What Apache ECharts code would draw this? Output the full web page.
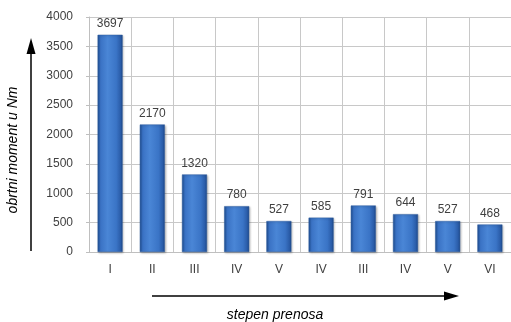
<!DOCTYPE html>
<html>
<head>
<meta charset="utf-8">
<script src="https://cdn.jsdelivr.net/npm/echarts@6/dist/echarts.min.js"></script>
<style>
  html, body { margin: 0; padding: 0; background: #fff; }
  #chart { width: 511px; height: 322px; }
</style>
</head>
<body>
<div id="chart"></div>
<script>
// Gear stages and the torque measured in each
const gears = ['I', 'II', 'III', 'IV', 'V', 'IV', 'III', 'IV', 'V', 'VI'];
const torque = [3697, 2170, 1320, 780, 527, 585, 791, 644, 527, 468];
const yTicks = { min: 0, max: 4000, step: 500 };

const chart = echarts.init(document.getElementById('chart'));
const font = 'Liberation Sans, Arial, sans-serif';

chart.setOption({
  animation: false,
  backgroundColor: '#ffffff',
  grid: { left: 89, right: -7, top: 17, bottom: 70, containLabel: false },
  xAxis: {
    type: 'category',
    data: gears,
    boundaryGap: true,
    axisLine: { show: true, lineStyle: { color: '#bfbfbf', width: 1 } },
    axisTick: { show: false },
    axisLabel: { color: '#404040', fontFamily: font, fontSize: 12, margin: 12 },
    splitLine: { show: true, lineStyle: { color: '#c8c8c8', width: 1 } }
  },
  yAxis: {
    type: 'value',
    min: yTicks.min,
    max: yTicks.max,
    interval: yTicks.step,
    axisLine: { show: true, lineStyle: { color: '#bfbfbf', width: 1 } },
    axisTick: { show: true, length: 3, lineStyle: { color: '#bfbfbf' } },
    axisLabel: {
      color: '#404040', fontFamily: font, fontSize: 12, margin: 16,
      formatter: v => String(v)
    },
    splitLine: { show: true, lineStyle: { color: '#c8c8c8', width: 1 } }
  },
  series: [{
    type: 'bar',
    data: torque,
    barWidth: 25,
    itemStyle: {
      color: new echarts.graphic.LinearGradient(0, 0, 1, 0, [
        { offset: 0, color: '#1e4f94' },
        { offset: 0.12, color: '#3a72c4' },
        { offset: 0.4, color: '#4a86d6' },
        { offset: 0.75, color: '#3a74c6' },
        { offset: 0.92, color: '#2a5ca8' },
        { offset: 1, color: '#1c4585' }
      ]),
      borderColor: '#2a5a9e',
      borderWidth: 0.5,
      shadowColor: 'rgba(0,0,0,0.25)',
      shadowBlur: 2,
      shadowOffsetX: 1,
      shadowOffsetY: 1
    },
    label: {
      show: true,
      position: 'top',
      distance: 5,
      color: '#404040',
      fontFamily: font,
      fontSize: 12
    }
  }],
  graphic: [
    // vertical arrow beside the value axis
    { type: 'line', shape: { x1: 31, y1: 251, x2: 31, y2: 50 }, style: { stroke: '#000', lineWidth: 1.5 } },
    { type: 'polygon', shape: { points: [[31, 38], [26.5, 54], [35.5, 54]] }, style: { fill: '#000' } },
    {
      type: 'text', x: 13, y: 150, rotation: Math.PI / 2,
      style: {
        text: 'obrtni moment u Nm', fill: '#000', font: 'italic 14px Liberation Sans, Arial, sans-serif',
        align: 'center', verticalAlign: 'middle'
      }
    },
    // horizontal arrow under the category axis
    { type: 'line', shape: { x1: 152, y1: 296, x2: 446, y2: 296 }, style: { stroke: '#000', lineWidth: 1.5 } },
    { type: 'polygon', shape: { points: [[459, 296], [444, 291.5], [444, 300.5]] }, style: { fill: '#000' } },
    {
      type: 'text', x: 275, y: 315,
      style: {
        text: 'stepen prenosa', fill: '#000', font: 'italic 14px Liberation Sans, Arial, sans-serif',
        align: 'center', verticalAlign: 'middle'
      }
    }
  ]
});
</script>
</body>
</html>
